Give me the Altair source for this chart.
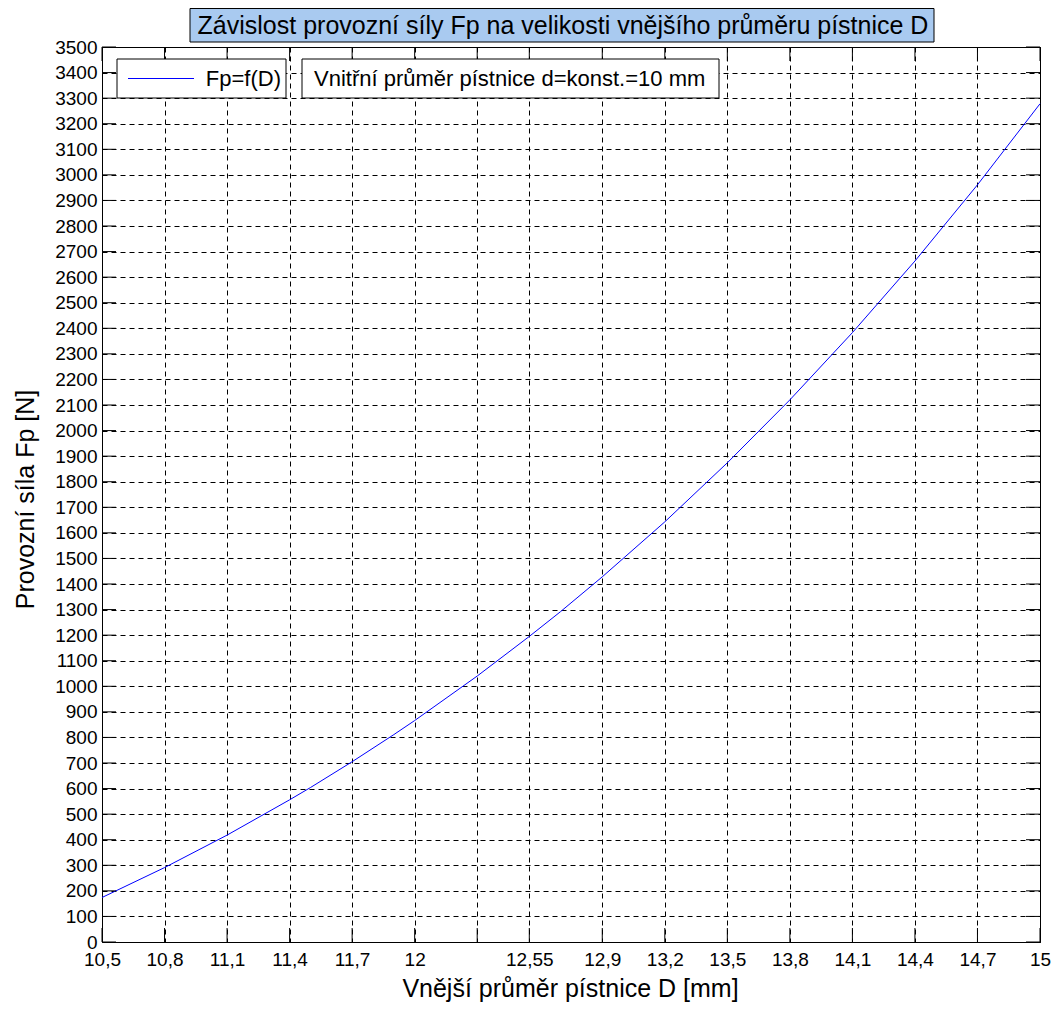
import altair as alt
import pandas as pd

# ---- data ----
D = [10.5, 10.8, 11.1, 11.4, 11.5, 11.7, 11.9, 12.0, 12.3, 12.55, 12.7,
     12.9, 13.2, 13.5, 13.8, 14.1, 14.4, 14.7, 15.0]
Fp = [174, 291, 418, 556, 604, 705, 811, 866, 1040, 1195, 1292,
      1428, 1643, 1874, 2120, 2383, 2663, 2961, 3278]

x_ticks = [10.5, 10.8, 11.1, 11.4, 11.7, 12, 12.3, 12.55, 12.9, 13.2,
           13.5, 13.8, 14.1, 14.4, 14.7, 15]
y_ticks = list(range(0, 3501, 100))

title_text = "Závislost provozní síly Fp na velikosti vnějšího průměru pístnice D"
x_title = "Vnější průměr pístnice D [mm]"
y_title = "Provozní síla Fp [N]"
legend_label = "Fp=f(D)"
note_text = "Vnitřní průměr pístnice d=konst.=10 mm"

# ---- layout ----
W, H = 938, 895
FONT = "Liberation Sans, Arial, sans-serif"
TICK = 14

df = pd.DataFrame({"D": D, "Fp": Fp})
xt = pd.DataFrame({"D": x_ticks})
yt = pd.DataFrame({"Fp": y_ticks})
one = pd.DataFrame({"k": [0]})

xscale = alt.Scale(domain=[10.5, 15], nice=False, zero=False)
yscale = alt.Scale(domain=[0, 3500], nice=False)

grid_kw = dict(grid=True, gridDash=[5, 4], gridColor="#000", gridOpacity=1,
               gridWidth=1, ticks=False, tickSize=0, domain=False,
               labelFont=FONT, labelFontSize=19, labelColor="#000",
               labelOverlap=False, titleFont=FONT, titleFontSize=25,
               titleFontWeight="normal", titleColor="#000")

xaxis = alt.Axis(values=x_ticks,
                 labelExpr="datum.value == 12.3 ? '' : replace(format(datum.value, '.2~f'), '.', ',')",
                 labelPadding=8, labelFlush=False, labelBound=False,
                 title=x_title, titleX=468, titleY=54,
                 titleBaseline="alphabetic", titleAlign="center", **grid_kw)
yaxis = alt.Axis(values=y_ticks, format="d", labelPadding=5, tickCount=36,
                 title=y_title, titleX=-77, titleY=452, titleAngle=270,
                 titleBaseline="middle", titleAlign="center", **grid_kw)

X = alt.X("D:Q", scale=xscale, axis=xaxis)
Y = alt.Y("Fp:Q", scale=yscale, axis=yaxis)

line = alt.Chart(df).mark_line(color="#0000ff", strokeWidth=1).encode(x=X, y=Y)

tick_bottom = alt.Chart(xt).mark_rule(color="#000", strokeWidth=1).encode(
    x=X, y=alt.value(H), y2=alt.value(H - TICK))
tick_top = alt.Chart(xt).mark_rule(color="#000", strokeWidth=1).encode(
    x=X, y=alt.value(0), y2=alt.value(TICK))
tick_left = alt.Chart(yt).mark_rule(color="#000", strokeWidth=1).encode(
    y=Y, x=alt.value(0), x2=alt.value(TICK))
tick_right = alt.Chart(yt).mark_rule(color="#000", strokeWidth=1).encode(
    y=Y, x=alt.value(W), x2=alt.value(W - TICK))

box1 = alt.Chart(one).mark_rect(fill="white", stroke="#000", strokeWidth=1).encode(
    x=alt.value(15), x2=alt.value(184), y=alt.value(12), y2=alt.value(51))
box2 = alt.Chart(one).mark_rect(fill="white", stroke="#000", strokeWidth=1).encode(
    x=alt.value(200), x2=alt.value(617), y=alt.value(12), y2=alt.value(51))
leg_line = alt.Chart(one).mark_rule(color="#0000ff", strokeWidth=1).encode(
    x=alt.value(26), x2=alt.value(92), y=alt.value(31.5))
leg_text = alt.Chart(one).mark_text(text=legend_label, font=FONT, fontSize=22,
                                    align="right", baseline="middle", color="#000").encode(
    x=alt.value(179), y=alt.value(32))
note = alt.Chart(one).mark_text(text=note_text, font=FONT, fontSize=22,
                                align="left", baseline="middle", color="#000").encode(
    x=alt.value(212), y=alt.value(32))

title_box = alt.Chart(one).mark_rect(fill="#a9caf0", stroke="#000", strokeWidth=1).encode(
    x=alt.value(88), x2=alt.value(832), y=alt.value(-38.5), y2=alt.value(-5))
title = alt.Chart(one).mark_text(text=title_text, font=FONT, fontSize=25,
                                 align="center", baseline="middle", color="#000").encode(
    x=alt.value(461), y=alt.value(-21))

chart = alt.layer(
    line, tick_bottom, tick_top, tick_left, tick_right,
    box1, box2, leg_line, leg_text, note, title_box, title,
).properties(
    width=W, height=H,
    autosize=alt.AutoSizeParams(type="none"),
    padding={"left": 94, "top": 39, "right": 11, "bottom": 60},
    background="white",
).configure_view(stroke="#000", strokeWidth=1)

chart.save("out.html", embed_options={"renderer": "svg", "actions": False})
